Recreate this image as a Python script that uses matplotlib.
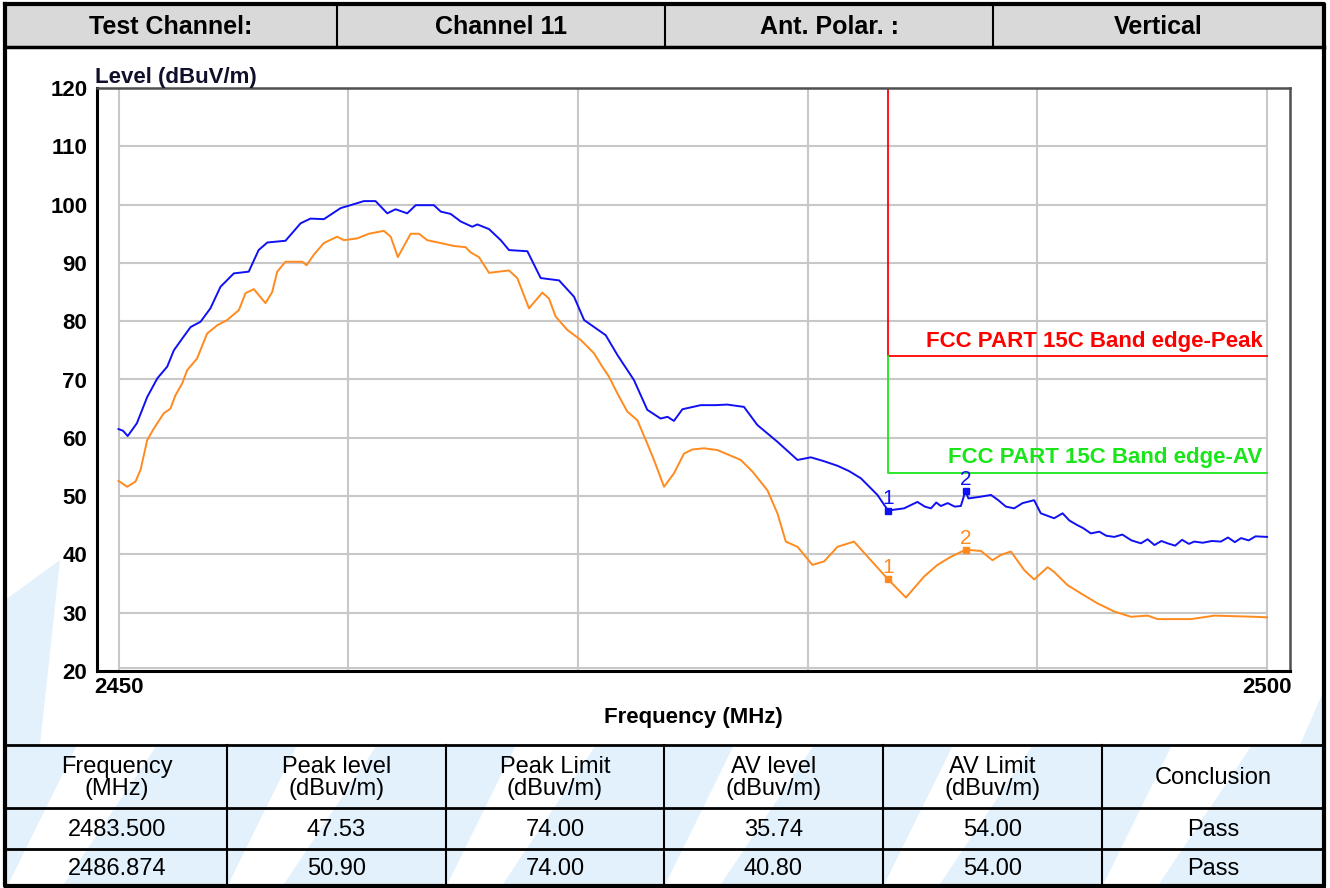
import matplotlib
matplotlib.use("Agg")
import matplotlib.pyplot as plt
from matplotlib.patches import Rectangle, Polygon

plt.rcParams['font.family'] = ['Liberation Sans', 'DejaVu Sans']

# header row
header_cells = ["Test Channel:", "Channel 11", "Ant. Polar. :", "Vertical"]

# peak trace (blue)
peak_freq = [2450.0, 2450.2, 2450.4, 2450.8, 2451.03, 2451.25, 2451.69, 2452.12, 2452.41, 2452.77,
             2453.14, 2453.57, 2454.0, 2454.44, 2455.02, 2455.67, 2456.1, 2456.48, 2457.27, 2457.93,
             2458.36, 2458.94, 2459.67, 2460.1, 2460.68, 2461.19, 2461.7, 2462.06, 2462.57, 2462.94,
             2463.73, 2464.03, 2464.46, 2464.9, 2465.4, 2465.62, 2466.13, 2466.64, 2467.0, 2467.8,
             2468.38, 2469.18, 2469.83, 2470.27, 2471.21, 2471.72, 2472.44, 2473.02, 2473.6, 2473.9,
             2474.18, 2474.55, 2475.35, 2476.0, 2476.5, 2477.23, 2477.81, 2478.69, 2479.56, 2480.14,
             2480.7, 2481.3, 2481.8, 2482.32, 2483.04, 2483.5, 2484.2, 2484.78, 2485.1, 2485.37,
             2485.6, 2485.8, 2486.1, 2486.4, 2486.67, 2486.874, 2487.0, 2487.54, 2487.98, 2488.3,
             2488.63, 2488.99, 2489.36, 2489.86, 2490.15, 2490.73, 2491.1, 2491.4, 2491.75, 2492.0,
             2492.33, 2492.7, 2493.0, 2493.35, 2493.7, 2494.1, 2494.51, 2494.8, 2495.1, 2495.4,
             2495.67, 2496.0, 2496.3, 2496.6, 2496.83, 2497.2, 2497.6, 2497.99, 2498.3, 2498.6,
             2498.87, 2499.2, 2499.5, 2500.0]
peak_level = [61.5, 61.2, 60.3, 62.5, 64.8, 67.0, 70.2, 72.2, 75.0, 77.0,
              79.0, 79.9, 82.2, 85.9, 88.2, 88.5, 92.2, 93.5, 93.8, 96.8,
              97.6, 97.5, 99.4, 99.9, 100.6, 100.6, 98.5, 99.2, 98.5, 99.9,
              99.9, 98.8, 98.4, 97.1, 96.2, 96.6, 95.8, 93.9, 92.2, 92.0,
              87.4, 87.0, 84.2, 80.2, 77.6, 74.2, 69.9, 64.8, 63.3, 63.6,
              62.9, 64.9, 65.6, 65.6, 65.7, 65.3, 62.2, 59.3, 56.2, 56.65,
              56.0, 55.2, 54.3, 53.05, 50.2, 47.53, 47.9, 49.0, 48.2, 47.9,
              48.9, 48.3, 48.8, 48.2, 48.3, 50.9, 49.6, 49.9, 50.2, 49.3,
              48.2, 47.9, 48.8, 49.3, 47.05, 46.2, 47.05, 45.8, 45.0, 44.5,
              43.6, 43.9, 43.2, 43.0, 43.4, 42.4, 41.9, 42.6, 41.6, 42.3,
              41.9, 41.5, 42.5, 41.8, 42.2, 42.0, 42.3, 42.2, 42.9, 42.1,
              42.8, 42.4, 43.1, 43.0]

# average trace (orange)
av_freq = [2450.0, 2450.38, 2450.74, 2450.96, 2451.25, 2451.54, 2451.97, 2452.26, 2452.48, 2452.77,
           2452.99, 2453.42, 2453.86, 2454.3, 2454.73, 2455.24, 2455.53, 2455.89, 2456.4, 2456.69,
           2456.91, 2457.27, 2458.0, 2458.19, 2458.5, 2458.94, 2459.52, 2459.81, 2460.39, 2460.9,
           2461.55, 2461.85, 2462.16, 2462.72, 2463.08, 2463.44, 2464.03, 2464.6, 2465.11, 2465.33,
           2465.69, 2466.13, 2467.0, 2467.36, 2467.87, 2468.45, 2468.74, 2469.03, 2469.54, 2470.12,
           2470.7, 2471.06, 2471.35, 2471.72, 2472.15, 2472.59, 2473.02, 2473.31, 2473.75, 2474.18,
           2474.62, 2474.98, 2475.49, 2476.07, 2477.09, 2477.6, 2478.25, 2478.69, 2479.05, 2479.56,
           2480.21, 2480.72, 2481.3, 2482.02, 2482.75, 2483.5, 2484.28, 2485.07, 2485.65, 2486.24,
           2486.874, 2487.54, 2488.05, 2488.41, 2488.85, 2489.43, 2489.86, 2490.45, 2490.73, 2491.31,
           2491.9, 2492.62, 2493.35, 2494.08, 2494.8, 2495.24, 2496.69, 2497.71, 2499.45, 2500.0]
av_level = [52.6, 51.6, 52.5, 54.5, 59.6, 61.6, 64.2, 65.0, 67.3, 69.3,
            71.6, 73.6, 77.9, 79.3, 80.2, 81.9, 84.8, 85.5, 83.1, 85.0,
            88.5, 90.2, 90.2, 89.6, 91.4, 93.4, 94.5, 93.9, 94.2, 95.0,
            95.5, 94.5, 91.0, 95.0, 95.0, 93.9, 93.4, 92.9, 92.7, 91.8,
            91.0, 88.3, 88.7, 87.4, 82.2, 84.9, 83.9, 80.8, 78.5, 76.8,
            74.5, 72.2, 70.5, 67.6, 64.5, 63.0, 59.0, 56.2, 51.6, 53.9,
            57.3, 58.0, 58.2, 57.9, 56.2, 54.2, 51.0, 47.0, 42.2, 41.3,
            38.2, 38.8, 41.3, 42.2, 39.0, 35.74, 32.6, 36.2, 38.2, 39.6,
            40.8, 40.6, 39.0, 39.9, 40.5, 37.3, 35.7, 37.8, 37.0, 34.75,
            33.3, 31.6, 30.2, 29.3, 29.5, 28.9, 28.9, 29.5, 29.3, 29.2]

limit_edge = 2483.5
peak_limit = 74.0
av_limit = 54.0
peak_limit_label = "FCC PART 15C Band edge-Peak"
av_limit_label = "FCC PART 15C Band edge-AV"

marker_freq = [2483.500, 2486.874]
marker_peak = [47.53, 50.90]
marker_av = [35.74, 40.80]
marker_names = ["1", "2"]

table_head = ["Frequency\n(MHz)", "Peak level\n(dBuv/m)", "Peak Limit\n(dBuv/m)",
              "AV level\n(dBuv/m)", "AV Limit\n(dBuv/m)", "Conclusion"]
peak_limits = [74.00, 74.00]
av_limits = [54.00, 54.00]
conclusions = ["Pass", "Pass"]

BLUE = "#1010f5"
ORANGE = "#ff8a1e"
RED = "#ff0000"
GREEN = "#19e619"
WASH = "#e2f1fc"
GRID = "#c8c8c8"

fig = plt.figure(figsize=(13.3, 8.88), dpi=100)

# page layer in pixel coordinates
bg = fig.add_axes([0, 0, 1, 1], zorder=0)
bg.set_xlim(0, 1330)
bg.set_ylim(888, 0)
bg.axis("off")

# light blue watermark on the left and in the table
bg.add_patch(Polygon([(5, 600), (60, 560), (40, 745), (5, 745)], closed=True,
                     facecolor=WASH, edgecolor="none"))
bg.add_patch(Polygon([(1324, 690), (1300, 745), (1324, 745)], closed=True,
                     facecolor=WASH, edgecolor="none"))
col_x = [7, 227, 446, 664, 883, 1102, 1324]
row_y = [745, 808, 849, 887]
bg.add_patch(Rectangle((col_x[0], row_y[0]), col_x[-1] - col_x[0], row_y[-1] - row_y[0],
                       facecolor=WASH, edgecolor="none"))
for cl in col_x[:-1]:
    bg.add_patch(Polygon([(cl, 887), (cl + 55, 887), (cl + 150, 745), (cl + 70, 745)],
                         closed=True, facecolor="white", edgecolor="none"))

# header row
bg.add_patch(Rectangle((5, 4), 1319, 43, facecolor="#d9d9d9", edgecolor="none"))
hx = [5, 337, 665, 993, 1324]
for i, t in enumerate(header_cells):
    bg.text((hx[i] + hx[i + 1]) / 2, 27, t, ha="center", va="center",
            fontsize=18, fontweight="bold")
for x in hx[1:-1]:
    bg.plot([x, x], [4, 47], color="black", lw=1.5)
bg.plot([5, 1324], [47, 47], color="black", lw=2.5)

# bottom table
rows = []
for i in range(len(marker_freq)):
    rows.append([f"{marker_freq[i]:.3f}", f"{marker_peak[i]:.2f}", f"{peak_limits[i]:.2f}",
                 f"{marker_av[i]:.2f}", f"{av_limits[i]:.2f}", conclusions[i]])
for j, t in enumerate(table_head):
    bg.text((col_x[j] + col_x[j + 1]) / 2, (row_y[0] + row_y[1]) / 2 + 1, t,
            ha="center", va="center", fontsize=17, linespacing=1.0)
for i, r in enumerate(rows):
    for j, t in enumerate(r):
        bg.text((col_x[j] + col_x[j + 1]) / 2, (row_y[i + 1] + row_y[i + 2]) / 2 + 1, t,
                ha="center", va="center", fontsize=17)
for y in row_y:
    bg.plot([5, 1324], [y, y], color="black", lw=2)
for x in col_x[1:-1]:
    bg.plot([x, x], [row_y[0], row_y[-1]], color="black", lw=1.5)

# outer frame
bg.plot([5, 1324, 1324, 5, 5], [4, 4, 886, 886, 4], color="black", lw=3)

# chart: frame is a little wider than the 2450-2500 data span
ax = fig.add_axes([97 / 1330, 1 - 671 / 888, 1193 / 1330, 583 / 888], zorder=1)
ax.set_facecolor("white")
ax.set_xlim(2449.064, 2501.0)
ax.set_ylim(20, 120)

# grid only over the data span
yt = list(range(20, 121, 10))
ax.hlines(yt[1:-1], 2450, 2500, color=GRID, lw=1.5, zorder=1)
ax.hlines([20.6], 2450, 2500, color=GRID, lw=1.5, zorder=1)
ax.vlines(list(range(2450, 2501, 10)), 20, 120, color=GRID, lw=1.5, zorder=1)

ax.plot(peak_freq, peak_level, color=BLUE, lw=1.4, zorder=3)
ax.plot(av_freq, av_level, color=ORANGE, lw=1.4, zorder=3)

# limit lines
ax.plot([limit_edge, limit_edge, 2500], [120, peak_limit, peak_limit], color=RED, lw=1.3, zorder=2)
ax.plot([limit_edge, limit_edge, 2500], [peak_limit, av_limit, av_limit], color=GREEN, lw=1.3, zorder=2)
ax.text(2499.8, peak_limit + 1.5, peak_limit_label, color=RED, ha="right", va="baseline",
        fontsize=16, fontweight="bold")
ax.text(2499.8, av_limit + 1.7, av_limit_label, color=GREEN, ha="right", va="baseline",
        fontsize=16, fontweight="bold")

# markers
for vals, c in [(marker_peak, BLUE), (marker_av, ORANGE)]:
    ax.plot(marker_freq, vals, ls="none", marker="s", ms=4.5, color=c, zorder=4)
    for f, v, n in zip(marker_freq, vals, marker_names):
        ax.annotate(n, (f, v), xytext=(0, 1.5), textcoords="offset points",
                    ha="center", va="bottom", color=c, fontsize=15)

# axes styling
ax.set_yticks(yt)
ax.set_yticklabels([str(v) for v in yt], fontweight="bold", fontsize=16)
ax.set_xticks([2450, 2500])
ax.set_xticklabels(["2450", "2500"], fontweight="bold", fontsize=16)
ax.tick_params(which="both", length=0)
ax.tick_params(axis="y", pad=7)
ax.tick_params(axis="x", pad=4)
for s in ["left", "bottom"]:
    ax.spines[s].set_color("black")
    ax.spines[s].set_linewidth(2.2)
for s in ["top", "right"]:
    ax.spines[s].set_color("#505050")
    ax.spines[s].set_linewidth(1.8)

ax.text(-0.002, 1.009, "Level (dBuV/m)", transform=ax.transAxes, ha="left", va="baseline",
        fontsize=16, fontweight="bold", color="#10102a")
ax.set_xlabel("Frequency (MHz)", fontsize=16, fontweight="bold", labelpad=7)

fig.savefig("out.png", dpi=100)
